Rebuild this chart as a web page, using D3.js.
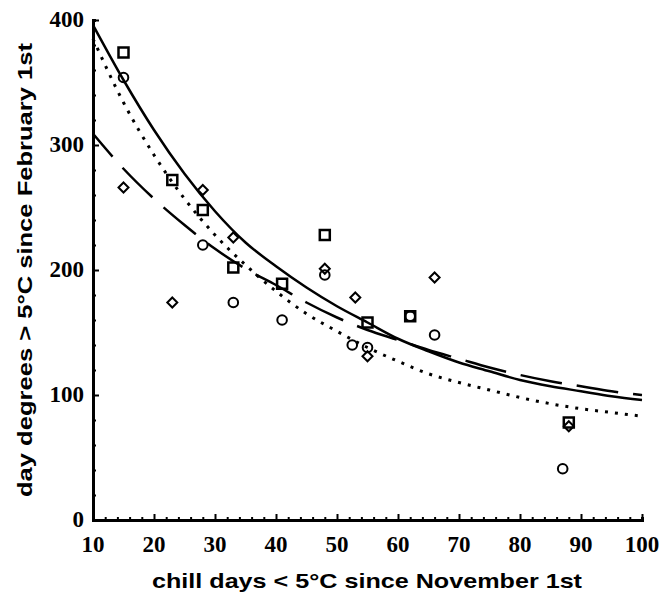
<!DOCTYPE html>
<html>
<head>
<meta charset="utf-8">
<script src="https://cdn.jsdelivr.net/npm/d3@7"></script>
<style>
  body { margin: 0; background: #fff; }
  svg { display: block; }
</style>
</head>
<body>
<div id="chart"></div>
<script>
// Data
const squareX = [15, 23, 28, 33, 41, 48, 55, 62, 88];
const squareY = [374, 272, 248, 202, 189, 228, 158, 163, 78];

const circleX = [15, 28, 33, 41, 48, 52.5, 55, 62, 66, 87];
const circleY = [354, 220, 174, 160, 196, 140, 138, 163, 148, 41];

const diamondX = [15, 23, 28, 33, 48, 53, 55, 66, 88];
const diamondY = [266, 174, 264, 226, 201, 178, 131, 194, 75];

// fitted curves
const curveX = [10, 15, 20, 25, 30, 35, 40, 45, 50, 55, 60, 65, 70, 75, 80, 85, 90, 95, 100];
const solidY = [396, 352, 312, 277, 247, 222, 203, 186, 171, 158, 145, 135, 126, 119, 112, 107, 103, 99, 96];
const dottedY = [385, 334, 292, 257, 228, 204, 183, 165, 151, 138, 127, 117, 110, 104, 98, 93, 89, 86, 83];
const dashedY = [309, 281, 257, 236, 217, 201, 188, 174, 162, 152, 144, 136, 129, 122, 116, 111, 107, 103, 100];

const xTicks = [10, 20, 30, 40, 50, 60, 70, 80, 90, 100];
const yTicks = [0, 100, 200, 300, 400];

const width = 663, height = 597;
const margin = { left: 93, right: 21, top: 20, bottom: 77 };

const svg = d3.select('#chart').append('svg')
  .attr('width', width)
  .attr('height', height);

const x = d3.scaleLinear().domain([10, 100]).range([margin.left, width - margin.right]);
const y = d3.scaleLinear().domain([0, 400]).range([height - margin.bottom, margin.top]);

// Axes (ticks pointing inward)
const xAxis = svg.append('g')
  .attr('transform', `translate(0,${y(0)})`)
  .call(d3.axisTop(x).tickValues(d3.range(10, 101, 2)).tickSize(3).tickFormat(''));
xAxis.selectAll('.tick line').attr('stroke-width', 2)
  .attr('y2', d => (d % 10 === 0 ? -6 : -3));

const yAxis = svg.append('g')
  .attr('transform', `translate(${x(10)},0)`)
  .call(d3.axisRight(y).tickValues(d3.range(0, 401, 20)).tickSize(3).tickFormat(''));
yAxis.selectAll('.tick line').attr('stroke-width', 2)
  .attr('x2', d => (d % 100 === 0 ? 6 : 3));

svg.selectAll('.domain').attr('stroke', '#000').attr('stroke-width', 3);

// Tick labels
svg.append('g').selectAll('text')
  .data(xTicks)
  .join('text')
  .attr('x', d => x(d))
  .attr('y', 552)
  .attr('text-anchor', 'middle')
  .attr('font-family', '"Liberation Serif", "Times New Roman", serif')
  .attr('font-weight', 'bold')
  .attr('font-size', '23px')
  .text(d => d);

svg.append('g').selectAll('text')
  .data(yTicks)
  .join('text')
  .attr('x', 84)
  .attr('y', d => y(d) + 7)
  .attr('text-anchor', 'end')
  .attr('font-family', '"Liberation Serif", "Times New Roman", serif')
  .attr('font-weight', 'bold')
  .attr('font-size', '23px')
  .text(d => d);

// Axis titles (the original is stretched sideways a bit)
svg.append('text')
  .attr('x', 152)
  .attr('y', 588)
  .attr('textLength', 430)
  .attr('lengthAdjust', 'spacingAndGlyphs')
  .attr('font-family', '"Liberation Sans", Arial, sans-serif')
  .attr('font-weight', 'bold')
  .attr('font-size', '21px')
  .text('chill days < 5°C since November 1st');

svg.append('text')
  .attr('transform', 'translate(32,497) rotate(-90)')
  .attr('textLength', 454)
  .attr('lengthAdjust', 'spacingAndGlyphs')
  .attr('font-family', '"Liberation Sans", Arial, sans-serif')
  .attr('font-weight', 'bold')
  .attr('font-size', '21px')
  .text('day degrees > 5°C since February 1st');

// Curves
const line = d3.line()
  .x(d => x(d[0]))
  .y(d => y(d[1]))
  .curve(d3.curveMonotoneX);

const plot = svg.append('g');

plot.append('path')
  .datum(curveX.map((v, i) => [v, dottedY[i]]))
  .attr('d', line)
  .attr('fill', 'none')
  .attr('stroke', '#000')
  .attr('stroke-width', 3)
  .attr('stroke-dasharray', '3,7');

plot.append('path')
  .datum(curveX.map((v, i) => [v, dashedY[i]]))
  .attr('d', line)
  .attr('fill', 'none')
  .attr('stroke', '#000')
  .attr('stroke-width', 2.5)
  .attr('stroke-dasharray', '42,15')
  .attr('stroke-dashoffset', 12);

plot.append('path')
  .datum(curveX.map((v, i) => [v, solidY[i]]))
  .attr('d', line)
  .attr('fill', 'none')
  .attr('stroke', '#000')
  .attr('stroke-width', 2.5);

// Markers
plot.append('g').selectAll('rect')
  .data(squareX.map((v, i) => [v, squareY[i]]))
  .join('rect')
  .attr('x', d => x(d[0]) - 5)
  .attr('y', d => y(d[1]) - 5)
  .attr('width', 10)
  .attr('height', 10)
  .attr('fill', 'none')
  .attr('stroke', '#000')
  .attr('stroke-width', 2.5);

plot.append('g').selectAll('circle')
  .data(circleX.map((v, i) => [v, circleY[i]]))
  .join('circle')
  .attr('cx', d => x(d[0]))
  .attr('cy', d => y(d[1]))
  .attr('r', 4.8)
  .attr('fill', 'none')
  .attr('stroke', '#000')
  .attr('stroke-width', 2);

plot.append('g').selectAll('path')
  .data(diamondX.map((v, i) => [v, diamondY[i]]))
  .join('path')
  .attr('d', d => {
    const cx = x(d[0]), cy = y(d[1]), r = 5;
    return `M${cx},${cy - r}L${cx + r},${cy}L${cx},${cy + r}L${cx - r},${cy}Z`;
  })
  .attr('fill', 'none')
  .attr('stroke', '#000')
  .attr('stroke-width', 2);
</script>
</body>
</html>
